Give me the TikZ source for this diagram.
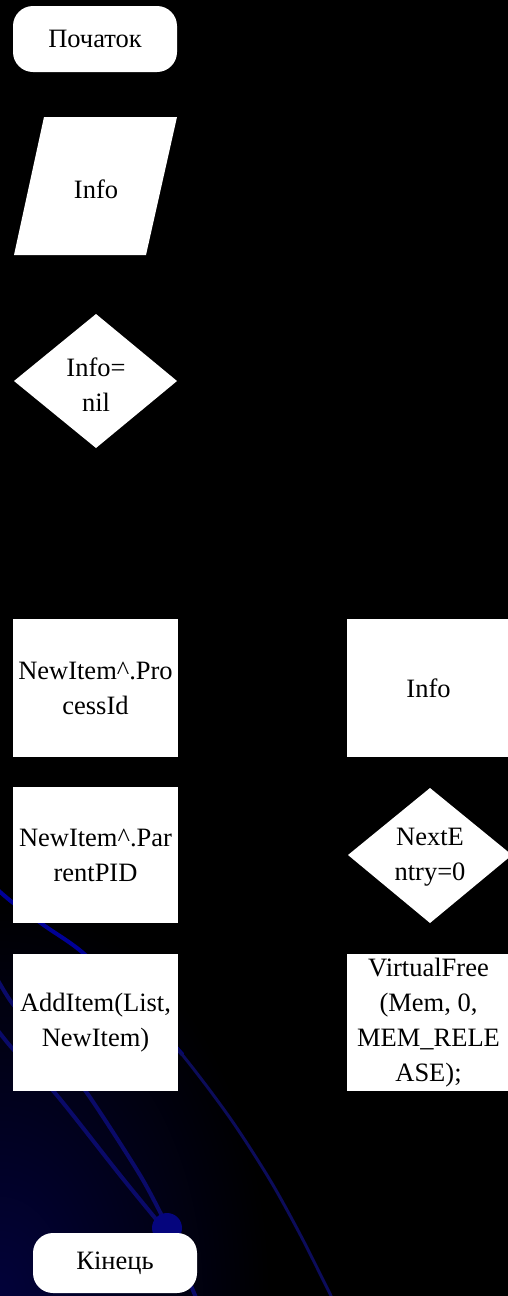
\documentclass[tikz,border=0pt]{standalone}
\usepackage{fontspec}
\setmainfont{Liberation Serif}
\definecolor{orbitblue}{RGB}{0,0,150}
\definecolor{orbitdark}{RGB}{10,10,105}
\definecolor{orbitfaint}{RGB}{12,12,90}
\definecolor{bgnavy}{RGB}{2,2,58}
\definecolor{ballblue}{RGB}{5,5,125}
\tikzset{
  shapefill/.style={fill=white, draw=none},
  txt/.style={font=\fontsize{26.5}{35}\selectfont, align=center, text=black, inner sep=0pt},
  termbox/.style={shapefill, txt, rounded corners=20pt},
  procbox/.style={shapefill, txt},
  orbit/.style={line width=4pt, draw=orbitdark, line cap=round},
}
\begin{document}
\begin{tikzpicture}[x=1pt,y=-1pt]
\useasboundingbox (0,0) rectangle (508,1296);
\clip (0,0) rectangle (508,1296);
% background
\fill[black] (0,0) rectangle (508,1296);
\shade[inner color=bgnavy, outer color=black] (0,1296) ellipse (270 and 400);
% decorative orbits
\draw[orbit, draw=orbitblue] plot[smooth] coordinates {(-10,883) (12,902) (45,926) (82,952) (130,998) (182,1054)};
\draw[orbit, draw=orbitfaint, line width=3pt] plot[smooth] coordinates {(130,998) (180,1052) (230,1118) (270,1180) (302,1238) (336,1306)};
\draw[orbit] plot[smooth] coordinates {(-10,966) (12,1003) (50,1047) (87,1093) (140,1175) (165,1222)};
\draw[orbit] plot[smooth] coordinates {(-10,1020) (12,1048) (55,1093) (120,1175) (160,1224)};
\draw[orbit] (167,1228) -- (197,1300);
\fill[ballblue] (167,1228) circle (15);
% shapes
\node[termbox, minimum width=164, minimum height=66] (start) at (95,39) {Початок};
\fill[white] (44,117) -- (177,117) -- (146,255) -- (14,255) -- cycle;
\node[txt] (input) at (96,189) {Info};
\fill[white] (96,314) -- (177,381) -- (96,448) -- (14,381) -- cycle;
\node[txt] (test) at (96,385) {Info=\\nil};
\node[procbox, minimum width=165, minimum height=138] (pid) at (95.5,688) {NewItem\textasciicircum.Pro\\cessId};
\node[procbox, minimum width=163, minimum height=138] (info) at (428.5,688) {Info};
\node[procbox, minimum width=165, minimum height=136] (ppid) at (95.5,855) {NewItem\textasciicircum.Par\\rentPID};
\fill[white] (430,788) -- (512,855) -- (430,923) -- (348,855) -- cycle;
\node[txt] (next) at (430,857) {NextE\\ntry=0};
\node[procbox, minimum width=165, minimum height=137] (add) at (95.5,1022.5) {AddItem(List,\\NewItem)};
\node[procbox, minimum width=163, minimum height=137] (free) at (428.5,1022.5) {VirtualFree\\(Mem, 0,\\MEM\_RELE\\ASE);};
\node[termbox, minimum width=164, minimum height=60] (end) at (115,1263) {Кінець};
\end{tikzpicture}
\end{document}
